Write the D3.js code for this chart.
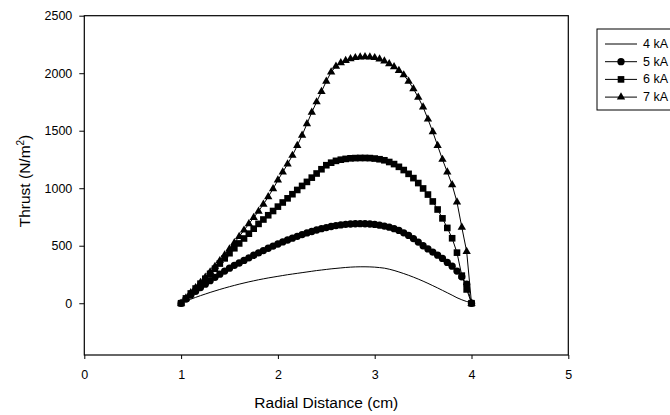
<!DOCTYPE html>
<html><head><meta charset="utf-8">
<script src="https://cdn.jsdelivr.net/npm/d3@7"></script>
<style>
body{margin:0;background:#fff}
svg{display:block}
text{font-family:"Liberation Sans",Arial,sans-serif;fill:#000}
</style>
</head><body>
<svg id="c" width="670" height="415"></svg>
<script>
const radialDistance = [1.00,1.05,1.10,1.15,1.20,1.25,1.30,1.35,1.40,1.45,
  1.50,1.55,1.60,1.65,1.70,1.75,1.80,1.85,1.90,1.95,
  2.00,2.05,2.10,2.15,2.20,2.25,2.30,2.35,2.40,2.45,
  2.50,2.55,2.60,2.65,2.70,2.75,2.80,2.85,2.90,2.95,
  3.00,3.05,3.10,3.15,3.20,3.25,3.30,3.35,3.40,3.45,
  3.50,3.55,3.60,3.65,3.70,3.75,3.80,3.85,3.90,3.95,4.00];
const thrust4kA = [0,18,35,51,66,80,94,107,120,132,
  144,155,166,176,186,195,204,212,220,227,
  234,241,248,254,260,266,272,278,284,289,
  294,299,303,307,311,314,316,317,317,316,
  314,310,305,296,285,272,258,243,227,210,
  192,173,153,133,112,91,70,48,30,15,5];
const thrust5kA = [0,36,71,104,136,166,196,225,253,280,
  305,330,350,372,395,417,438,458,478,497,
  515,533,550,566,582,597,611,624,637,648,
  658,667,675,681,686,689,691,692,691,689,
  685,679,671,661,648,633,612,590,562,532,
  500,472,445,418,390,355,322,280,230,165,0];
const thrust6kA = [0,42,85,128,170,213,256,300,345,390,
  435,478,520,563,605,648,690,728,765,802,
  840,876,912,948,985,1020,1055,1092,1128,1165,
  1200,1222,1238,1248,1255,1260,1262,1263,1263,1262,
  1258,1252,1243,1228,1210,1186,1158,1125,1088,1045,
  998,945,885,815,738,655,565,440,240,120,0];
const thrust7kA = [0,45,90,135,180,225,272,320,370,420,
  472,525,580,635,690,745,800,860,925,995,
  1070,1140,1210,1285,1370,1460,1560,1660,1750,1840,
  1930,2010,2060,2090,2110,2125,2135,2140,2142,2140,
  2135,2122,2105,2082,2055,2022,1985,1930,1865,1790,
  1705,1600,1490,1370,1250,1140,1030,880,660,450,0];
const seriesLabels = ["4 kA","5 kA","6 kA","7 kA"];
const seriesMarkers = [null,"circle","square","triangle"];
const xTicks = [0,1,2,3,4,5];
const yTicks = [0,500,1000,1500,2000,2500];

const svg = d3.select("#c");
const x = d3.scaleLinear().domain([0,5]).range([84.3,568.3]);
const y = d3.scaleLinear().domain([-450,2500]).range([355,15.7]);

const symType = {circle:d3.symbolCircle, square:d3.symbolSquare, triangle:d3.symbolTriangle};
const symSize = {circle:42, square:44, triangle:30};

// axes
const gx = svg.append("g").attr("transform",`translate(0,${y(-450)})`)
  .call(d3.axisBottom(x).tickValues(xTicks).tickSize(4).tickPadding(11).tickFormat(d3.format("d")));
gx.select(".domain").remove();
gx.selectAll("line").attr("stroke","#000");
gx.selectAll("text").attr("font-size","12.5px").attr("fill","#000");

const gy = svg.append("g").attr("transform",`translate(${x(0)},0)`)
  .call(d3.axisLeft(y).tickValues(yTicks).tickSize(5).tickPadding(7).tickFormat(d3.format("d")));
gy.select(".domain").remove();
gy.selectAll("line").attr("stroke","#000");
gy.selectAll("text").attr("font-size","12.5px").attr("fill","#000");

// frame
svg.append("rect").attr("x",x(0)).attr("y",y(2500))
  .attr("width",x(5)-x(0)).attr("height",y(-450)-y(2500))
  .attr("fill","none").attr("stroke","#000").attr("stroke-width",1.2);

// titles
svg.append("text").attr("x",x(2.5)).attr("y",408).attr("text-anchor","middle")
  .attr("font-size","15.5px").text("Radial Distance (cm)");
const yt = svg.append("text").attr("transform",`translate(30,181) rotate(-90)`)
  .attr("text-anchor","middle").attr("font-size","15.5px");
yt.append("tspan").text("Thrust (N/m");
yt.append("tspan").attr("dy",-6).attr("font-size","10px").text("2");
yt.append("tspan").attr("dy",6).text(")");

// series
const allSeries = [thrust4kA,thrust5kA,thrust6kA,thrust7kA];
const line = d3.line().x((d,i)=>x(radialDistance[i])).y(d=>y(d));
allSeries.forEach((vals,k)=>{
  svg.append("path").datum(vals).attr("d",line)
    .attr("fill","none").attr("stroke","#000").attr("stroke-width",1);
  const m = seriesMarkers[k];
  if(m){
    const sym = d3.symbol().type(symType[m]).size(symSize[m]);
    svg.append("g").selectAll("path").data(vals).join("path")
      .attr("transform",(d,i)=>`translate(${x(radialDistance[i])},${y(d)})`)
      .attr("d",sym()).attr("fill","#000");
  }
});

// legend
const lg = svg.append("g");
lg.append("rect").attr("x",597).attr("y",29).attr("width",100).attr("height",81)
  .attr("fill","#fff").attr("stroke","#000").attr("stroke-width",1);
seriesLabels.forEach((lab,k)=>{
  const cy = 44 + k*17.7;
  lg.append("line").attr("x1",605).attr("x2",637).attr("y1",cy).attr("y2",cy)
    .attr("stroke","#000").attr("stroke-width",1);
  const m = seriesMarkers[k];
  if(m){
    lg.append("path").attr("transform",`translate(621,${cy})`)
      .attr("d",d3.symbol().type(symType[m]).size(symSize[m])()).attr("fill","#000");
  }
  lg.append("text").attr("x",643).attr("y",cy+4).attr("font-size","12.5px").text(lab);
});
</script>
</body></html>
